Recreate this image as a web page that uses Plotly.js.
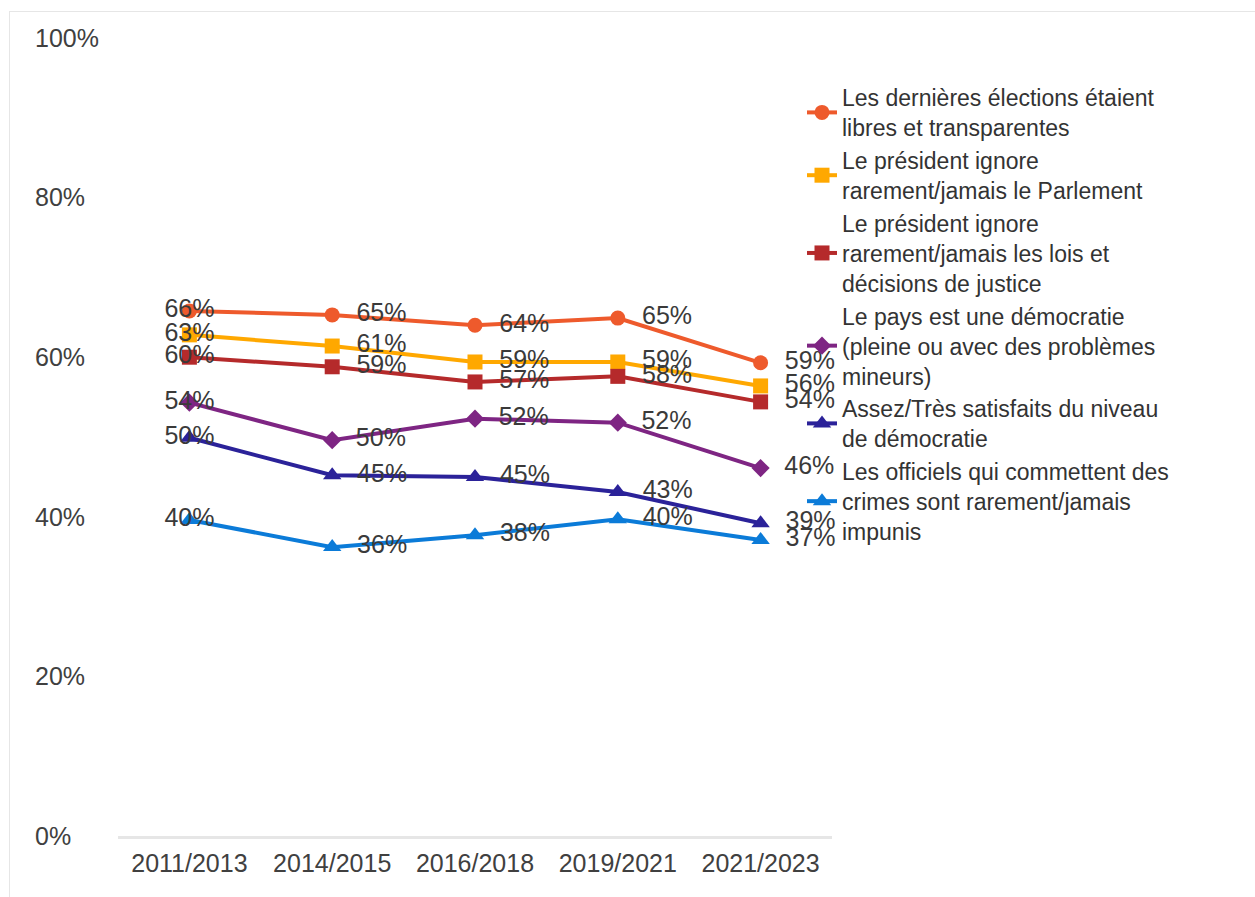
<!DOCTYPE html>
<html>
<head>
<meta charset="utf-8">
<script src="https://cdn.plot.ly/plotly-3.0.1.min.js"></script>
<style>
  html, body { margin: 0; padding: 0; background: #fff; }
  #frame {
    position: absolute; left: 9px; top: 11px; right: 0; bottom: 0;
    border-left: 1px solid #e6e6e6; border-top: 1px solid #e6e6e6;
  }
  #chart { position: absolute; left: 0; top: 0; width: 1255px; height: 897px; }
</style>
</head>
<body>
<div id="frame"></div>
<div id="chart"></div>
<script>
// --- DATA ---
const periods = ['2011/2013', '2014/2015', '2016/2018', '2019/2021', '2021/2023'];

const seriesNames = [
    'Les dernières élections étaient<br>libres et transparentes',
    'Le président ignore<br>rarement/jamais le Parlement',
    'Le président ignore<br>rarement/jamais les lois et<br>décisions de justice',
    'Le pays est une démocratie<br>(pleine ou avec des problèmes<br>mineurs)',
    'Assez/Très satisfaits du niveau<br>de démocratie',
    'Les officiels qui commettent des<br>crimes sont rarement/jamais<br>impunis'
];

// values in %
const elections = [65.8, 65.3, 64.0, 64.9, 59.3];
const parlement = [62.8, 61.4, 59.4, 59.4, 56.4];
const loisJustice = [60.0, 58.8, 56.9, 57.6, 54.4];
const democratie = [54.3, 49.6, 52.3, 51.8, 46.1];
const satisfaits = [49.9, 45.2, 45.0, 43.1, 39.2];
const officiels = [39.6, 36.2, 37.7, 39.7, 37.1];

const yTicks = [0, 20, 40, 60, 80, 100];
const yTickLabels = ['0%', '20%', '40%', '60%', '80%', '100%'];

// --- STYLE ---
const FONT = '"Liberation Sans", Arial, sans-serif';
const styles = [
    { color: '#EE5A2C', symbol: 'circle', size: 15 },
    { color: '#FFA800', symbol: 'square', size: 15 },
    { color: '#B52A2B', symbol: 'square', size: 15 },
    { color: '#7E2583', symbol: 'diamond', size: 14 },
    { color: '#2B2299', symbol: 'triangle-up', size: 16 },
    { color: '#0B7BD8', symbol: 'triangle-up', size: 16 }
];
const allValues = [elections, parlement, loisJustice, democratie, satisfaits, officiels];

const labelPos = periods.map((p, i) => i === 0 ? 'middle center' : 'middle right');

const traces = allValues.map((vals, k) => ({
    type: 'scatter',
    mode: 'lines+markers+text',
    x: periods,
    y: vals,
    name: seriesNames[k],
    line: { color: styles[k].color, width: 4 },
    marker: { color: styles[k].color, symbol: styles[k].symbol, size: styles[k].size },
    texttemplate: vals.map((v, i) => (i === 0 ? '' : '\u00A0\u00A0') + '%{y:.0f}%'),
    textposition: labelPos,
    textfont: { family: FONT, size: 25, color: '#3a3a3a' },
    cliponaxis: false,
    hoverinfo: 'skip'
}));

const W = 1255, H = 897;
const ML = 34, MR = 20;
const PW = W - ML - MR;

const layout = {
    width: W,
    height: H,
    margin: { l: ML, r: MR, t: 38, b: 61 },
    paper_bgcolor: 'rgba(0,0,0,0)',
    plot_bgcolor: 'rgba(0,0,0,0)',
    font: { family: FONT, size: 25, color: '#404040' },
    showlegend: true,
    legend: {
        x: (802 - ML) / PW,
        xanchor: 'left',
        y: 1 - (76 - 38) / 798,
        yanchor: 'top',
        font: { family: FONT, size: 23, color: '#333' },
        bgcolor: 'rgba(0,0,0,0)',
        tracegroupgap: 0
    },
    xaxis: {
        domain: [(118 - ML) / PW, (832 - ML) / PW],
        type: 'category',
        range: [-0.5, 4.5],
        showgrid: false,
        zeroline: false,
        showline: true,
        linecolor: '#e6e6e6',
        linewidth: 3,
        ticks: '',
        ticklabelstandoff: 3,
        tickfont: { family: FONT, size: 25, color: '#404040' },
        fixedrange: true
    },
    yaxis: {
        range: [0, 100],
        tickmode: 'array',
        tickvals: yTicks,
        ticktext: yTickLabels,
        side: 'right',
        anchor: 'free',
        position: 0,
        showgrid: false,
        zeroline: false,
        showline: false,
        ticks: '',
        tickfont: { family: FONT, size: 25, color: '#404040' },
        fixedrange: true
    },
    hovermode: false
};

Plotly.newPlot('chart', traces, layout, { displayModeBar: false, staticPlot: true });
</script>
</body>
</html>
